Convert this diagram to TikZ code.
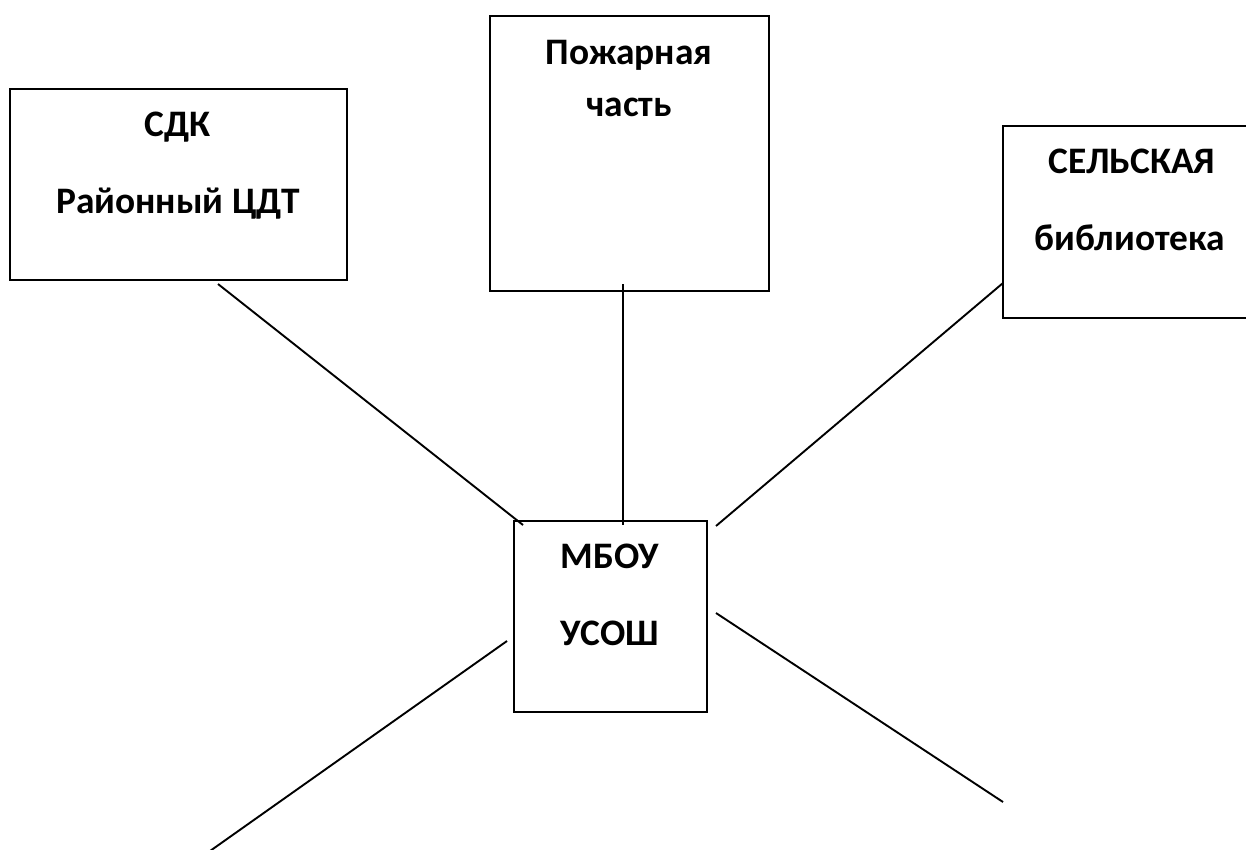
\documentclass[tikz,border=0pt]{standalone}
\usepackage{fontspec}
\setmainfont{Carlito}
\begin{document}
\begin{tikzpicture}[x=1pt,y=-1pt,
  box/.style={draw=black,line width=2.2pt,rectangle,inner sep=0pt,fill=white},
  conn/.style={draw=black,line width=1.9pt},
  lbl/.style={anchor=base,inner sep=0pt,font=\bfseries\fontsize{37.4}{45}\selectfont}]
\useasboundingbox (0,0) rectangle (1246,849);
\fill[white] (0,0) rectangle (1246,849);
\begin{scope}
\clip (0,0) rectangle (1246,849);
% boxes
\node[box,minimum width=337pt,minimum height=191pt] (sdk) at (178.5,184.5) {};
\node[box,minimum width=279pt,minimum height=275pt] (pozh) at (629.5,153.5) {};
\node[box,minimum width=255pt,minimum height=192pt] (sel) at (1130.5,222) {};
\node[box,minimum width=193pt,minimum height=191pt] (mbou) at (610.5,616.5) {};
% texts
\node[lbl] (t1) at (178,136) {СДК};
\node[lbl] (t2) at (178,213) {Районный ЦДТ};
\node[lbl] (t3) at (629,64) {Пожарная};
\node[lbl] (t4) at (629,116) {часть};
\node[lbl] (t5) at (1132,173) {СЕЛЬСКАЯ};
\node[lbl] (t6) at (1130,250) {библиотека};
\node[lbl] (t7) at (610,568) {МБОУ};
\node[lbl] (t8) at (610,645) {УСОШ};
% connector end points
\coordinate (sdkE) at (218,284);
\coordinate (mbouNW) at (523,525);
\coordinate (pozhE) at (623,284);
\coordinate (mbouN) at (623,525);
\coordinate (selE) at (1003,283);
\coordinate (mbouNE) at (716,526);
\coordinate (mbouW) at (507,641);
\coordinate (freeSW) at (210,851);
\coordinate (mbouE) at (716,613);
\coordinate (freeSE) at (1003,802);
% connectors
\draw[conn] (sdkE) -- (mbouNW);
\draw[conn] (pozhE) -- (mbouN);
\draw[conn] (selE) -- (mbouNE);
\draw[conn] (mbouW) -- (freeSW);
\draw[conn] (mbouE) -- (freeSE);
\end{scope}
\end{tikzpicture}
\end{document}
